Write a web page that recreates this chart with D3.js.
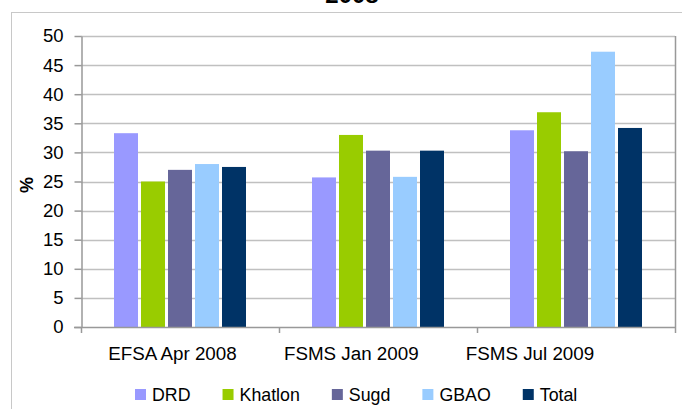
<!DOCTYPE html>
<html>
<head>
<meta charset="utf-8">
<script src="https://cdn.jsdelivr.net/npm/d3@7"></script>
<style>
  html, body { margin: 0; padding: 0; background: #fff; }
  svg { display: block; font-family: "Liberation Sans", Arial, sans-serif; }
</style>
</head>
<body>
<svg id="chart" width="682" height="409"></svg>
<script>
const title = "2008";
const categories = ["EFSA Apr 2008", "FSMS Jan 2009", "FSMS Jul 2009"];
const seriesNames = ["DRD", "Khatlon", "Sugd", "GBAO", "Total"];
const seriesColors = ["#9999ff", "#99cc00", "#666699", "#99ccff", "#003366"];
const DRD = [33.3, 25.7, 33.8];
const Khatlon = [25.0, 33.0, 36.9];
const Sugd = [27.0, 30.3, 30.2];
const GBAO = [28.0, 25.8, 47.3];
const Total = [27.5, 30.3, 34.2];
const yTicks = [0, 5, 10, 15, 20, 25, 30, 35, 40, 45, 50];
const yLabel = "%";

const seriesValues = [DRD, Khatlon, Sugd, GBAO, Total];

const svg = d3.select("#chart");
const plot = { left: 81, right: 675, top: 36, bottom: 327 };

// outer chart border
svg.append("rect")
  .attr("x", 11.5).attr("y", 12.5)
  .attr("width", 700).attr("height", 420)
  .attr("fill", "none").attr("stroke", "#c8c8c8").attr("stroke-width", 1);

// title (mostly clipped at top as in the reference)
svg.append("text")
  .attr("x", 352).attr("y", 3)
  .attr("text-anchor", "middle")
  .attr("font-size", 24).attr("font-weight", "bold")
  .attr("fill", "#000")
  .text(title);

const y = d3.scaleLinear().domain([0, 50]).range([plot.bottom, plot.top]);
const x0 = d3.scaleBand().domain(categories)
  .range([plot.left, plot.right])
  .paddingInner(63 / 198).paddingOuter(63 / 396);
const x1 = d3.scaleBand().domain(seriesNames)
  .range([0, x0.bandwidth()])
  .paddingInner(1 / 9).paddingOuter(1 / 18);
const xEdge = d3.scaleBand().domain(categories).range([plot.left, plot.right]);

// gridlines
svg.append("g").selectAll("line")
  .data(yTicks.filter(d => d > 0))
  .join("line")
  .attr("x1", plot.left).attr("x2", plot.right)
  .attr("y1", d => Math.round(y(d)) + 0.5).attr("y2", d => Math.round(y(d)) + 0.5)
  .attr("stroke", "#c0c0c0").attr("stroke-width", 1.5);

// right plot border
svg.append("line")
  .attr("x1", plot.right + 0.5).attr("x2", plot.right + 0.5)
  .attr("y1", plot.top).attr("y2", plot.bottom)
  .attr("stroke", "#999").attr("stroke-width", 1.5);

// bars
const groups = svg.append("g").selectAll("g")
  .data(categories)
  .join("g")
  .attr("transform", c => `translate(${x0(c)},0)`);

groups.selectAll("rect")
  .data((c, i) => seriesNames.map((s, k) => ({ s, k, v: seriesValues[k][i] })))
  .join("rect")
  .attr("x", d => x1(d.s))
  .attr("width", x1.bandwidth())
  .attr("y", d => y(d.v))
  .attr("height", d => y(0) - y(d.v))
  .attr("fill", d => seriesColors[d.k]);

// y axis
const yAxis = d3.axisLeft(y).tickValues(yTicks).tickSize(7).tickPadding(11).tickSizeOuter(0);
const gy = svg.append("g").attr("transform", `translate(${plot.left + 0.5},0)`).call(yAxis);
gy.select(".domain").attr("stroke", "#999").attr("stroke-width", 1.5);
gy.selectAll(".tick line").attr("stroke", "#999").attr("stroke-width", 1.5);
gy.selectAll(".tick text").attr("font-size", 18.5).attr("fill", "#000")
  .attr("font-family", "Liberation Sans, Arial, sans-serif");

// x axis line and boundary ticks
const gx = svg.append("g");
gx.append("line")
  .attr("x1", plot.left - 7).attr("x2", plot.right + 1)
  .attr("y1", plot.bottom + 0.5).attr("y2", plot.bottom + 0.5)
  .attr("stroke", "#999").attr("stroke-width", 1.5);
const edges = categories.map(c => xEdge(c)).concat([plot.right]);
gx.selectAll("line.edge")
  .data(edges)
  .join("line").attr("class", "edge")
  .attr("x1", d => Math.round(d) + 0.5).attr("x2", d => Math.round(d) + 0.5)
  .attr("y1", plot.bottom).attr("y2", plot.bottom + 6)
  .attr("stroke", "#999").attr("stroke-width", 1.5);

// category labels (placed as in reference, drifting left)
const labelX = d3.scalePoint().domain(categories).range([172.5, 530]);
gx.selectAll("text")
  .data(categories)
  .join("text")
  .attr("x", c => labelX(c))
  .attr("y", 360)
  .attr("text-anchor", "middle")
  .attr("font-size", 18.8)
  .attr("fill", "#000")
  .text(c => c);

// y label
svg.append("text")
  .attr("transform", "translate(33,185) rotate(-90)")
  .attr("text-anchor", "middle")
  .attr("font-size", 18).attr("font-weight", "bold")
  .text(yLabel);

// legend
const legend = svg.append("g");
let lx = 135;
seriesNames.forEach((s, k) => {
  legend.append("rect")
    .attr("x", lx).attr("y", 389)
    .attr("width", 11).attr("height", 11)
    .attr("fill", seriesColors[k]);
  const t = legend.append("text")
    .attr("x", lx + 17).attr("y", 400.5)
    .attr("font-size", 17.8)
    .attr("fill", "#000")
    .text(s);
  lx += 17 + t.node().getComputedTextLength() + 32;
});
</script>
</body>
</html>
